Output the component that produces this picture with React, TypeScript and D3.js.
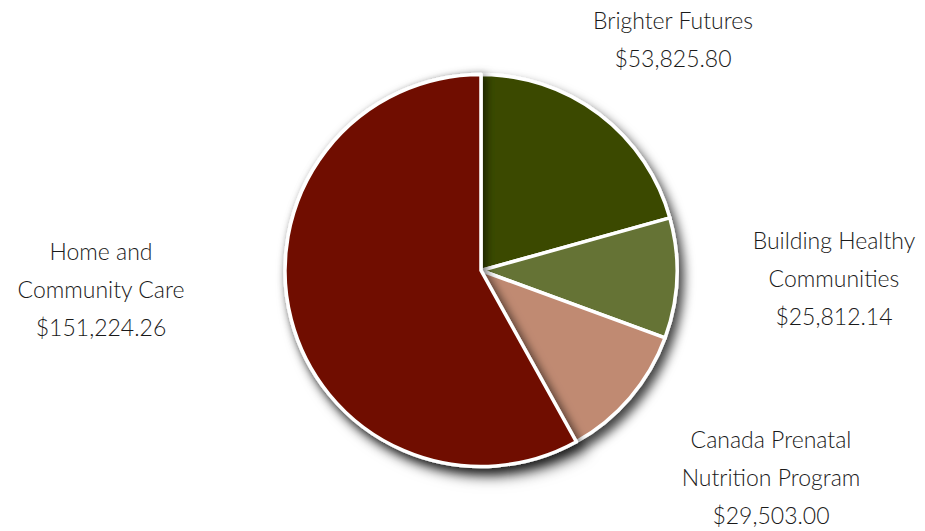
import { useEffect, useRef } from 'react'
import * as d3 from 'd3'

// 프로그램별 예산
const programs = ['Brighter Futures', 'Building Healthy Communities', 'Canada Prenatal Nutrition Program', 'Home and Community Care']
const amounts = [53825.8, 25812.14, 29503.0, 151224.26]
const colors = ['#3a4a00', '#657334', '#c08a72', '#701000']
const labelLines = [
  ['Brighter Futures'],
  ['Building Healthy', 'Communities'],
  ['Canada Prenatal', 'Nutrition Program'],
  ['Home and', 'Community Care'],
]
// 레이블 중심 위치 (첫 줄 기준)
const labelPos = [
  { x: 673, y: 29 },
  { x: 834, y: 249 },
  { x: 771, y: 448 },
  { x: 101, y: 260 },
]

export default function App() {
  const svgRef = useRef<SVGSVGElement>(null)

  useEffect(() => {
    if (!svgRef.current) return
    const width = 925
    const height = 531
    const cx = 481
    const cy = 270.5
    const radius = 196

    const svg = d3.select(svgRef.current)
    svg.selectAll('*').remove()
    svg.attr('width', width).attr('height', height)

    const defs = svg.append('defs')
    const outer = defs.append('filter').attr('id', 'outerShadow')
      .attr('x', '-20%').attr('y', '-20%').attr('width', '140%').attr('height', '140%')
    outer.append('feDropShadow')
      .attr('dx', 5).attr('dy', 7).attr('stdDeviation', 5.5)
      .attr('flood-color', '#000').attr('flood-opacity', 0.75)

    const slice = defs.append('filter').attr('id', 'sliceShadow')
      .attr('x', '-20%').attr('y', '-20%').attr('width', '140%').attr('height', '140%')
    slice.append('feDropShadow')
      .attr('dx', 4).attr('dy', 2).attr('stdDeviation', 4)
      .attr('flood-color', '#000').attr('flood-opacity', 0.55)

    const data = programs.map((p, i) => ({ name: p, value: amounts[i], i }))
    const pie = d3.pie<{ name: string; value: number; i: number }>()
      .value(d => d.value)
      .sort(null)
    const arcs = pie(data)
    const arc = d3.arc<d3.PieArcDatum<{ name: string; value: number; i: number }>>()
      .innerRadius(0)
      .outerRadius(radius)

    const g = svg.append('g')
      .attr('transform', `translate(${cx},${cy})`)
      .attr('filter', 'url(#outerShadow)')

    // 큰 조각은 마지막에 그려서 옆 조각에 그림자가 지도록
    arcs.forEach((a, idx) => {
      g.append('path')
        .attr('d', arc(a) || '')
        .attr('fill', colors[idx])
        .attr('stroke', '#fff')
        .attr('stroke-width', 3.5)
        .attr('stroke-linejoin', 'round')
        .attr('filter', idx === 3 ? 'url(#sliceShadow)' : null)
    })

    // 레이블
    const fmt = d3.format(',.2f')
    const lineH = 38
    labelLines.forEach((lines, i) => {
      const t = svg.append('text')
        .attr('x', labelPos[i].x)
        .attr('y', labelPos[i].y)
        .attr('text-anchor', 'middle')
        .style('font-family', 'Lato, "Open Sans", sans-serif')
        .style('font-weight', 300)
        .style('font-size', '23px')
        .style('fill', '#1a1a1a')
      ;[...lines, `$${fmt(amounts[i])}`].forEach((line, j) => {
        t.append('tspan')
          .attr('x', labelPos[i].x)
          .attr('y', labelPos[i].y + j * lineH)
          .text(line)
      })
    })
  }, [])

  return (
    <div style={{ position: 'absolute', left: 0, top: 0 }}>
      <svg ref={svgRef} style={{ display: 'block' }}></svg>
    </div>
  )
}
